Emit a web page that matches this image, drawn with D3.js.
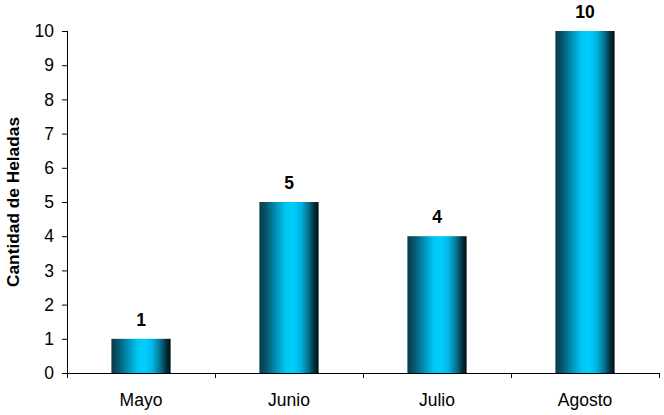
<!DOCTYPE html>
<html><head><meta charset="utf-8">
<script src="https://cdn.jsdelivr.net/npm/d3@7"></script>
<style>body{margin:0;background:#fff}text{font-family:"Liberation Sans",Arial,sans-serif}</style>
</head><body>
<svg id="c" width="664" height="415"></svg>
<script>
const categories = ["Mayo","Junio","Julio","Agosto"];
const values = [1,5,4,10];
const yTicks = [0,1,2,3,4,5,6,7,8,9,10];
const yTitle = "Cantidad de Heladas";

const svg = d3.select("#c");
const m = {l:67, r:5, t:31, b:42};
const W = 664, H = 415;
const FS = 17.5;
const x = d3.scaleBand().domain(categories).range([m.l, W - m.r]).paddingInner(0.6).paddingOuter(0.3);
const y = d3.scaleLinear().domain([0,10]).range([H - m.b, m.t]);

const defs = svg.append("defs");
const g = defs.append("linearGradient").attr("id","bg").attr("x1","0").attr("x2","1").attr("y1","0").attr("y2","0");
[[0,"#0a3a48"],[0.12,"#06586e"],[0.3,"#0098c0"],[0.45,"#00c8f5"],[0.58,"#00ccff"],[0.7,"#00b4e0"],[0.83,"#04708c"],[0.93,"#032e3a"],[1,"#010e12"]]
  .forEach(([o,c]) => g.append("stop").attr("offset",o).attr("stop-color",c));

// bars
svg.selectAll("rect.bar").data(values).join("rect")
  .attr("class","bar")
  .attr("x",(d,i)=>x(categories[i]))
  .attr("width",x.bandwidth())
  .attr("y",d=>y(d))
  .attr("height",d=>y(0)-y(d))
  .attr("fill","url(#bg)");

// value labels
svg.selectAll("text.val").data(values).join("text")
  .attr("class","val")
  .attr("x",(d,i)=>x(categories[i])+x.bandwidth()/2)
  .attr("y",d=>y(d)-13)
  .attr("text-anchor","middle")
  .attr("font-size",FS).attr("font-weight","bold").attr("fill","#000")
  .text(d=>d);

// y axis
const ya = svg.append("g").attr("transform",`translate(${m.l},0)`)
  .call(d3.axisLeft(y).tickValues(yTicks).tickSize(5).tickPadding(8).tickFormat(d3.format("d")));
ya.select(".domain").attr("d",`M0.5,${y(10)}V${y(0)}`).attr("stroke","#000");
ya.selectAll(".tick line").attr("stroke","#000");
ya.selectAll(".tick text").attr("font-size",FS).attr("fill","#000").style("font-family","'Liberation Sans',Arial,sans-serif");

// x axis
const step = x.step();
const xa = svg.append("g").attr("transform",`translate(0,${y(0)})`);
xa.append("line").attr("x1",m.l).attr("x2",W-m.r).attr("y1",0.5).attr("y2",0.5).attr("stroke","#000");
const bounds = categories.map((c,i)=>x(c)+x.bandwidth()/2 - step/2).concat([x(categories[categories.length-1])+x.bandwidth()/2+step/2]);
xa.selectAll("line.tk").data(bounds).join("line").attr("class","tk")
  .attr("x1",d=>Math.round(d)+0.5).attr("x2",d=>Math.round(d)+0.5).attr("y1",0).attr("y2",5).attr("stroke","#000");
xa.selectAll("text.cat").data(categories).join("text").attr("class","cat")
  .attr("x",d=>x(d)+x.bandwidth()/2).attr("y",33)
  .attr("text-anchor","middle").attr("font-size",FS).attr("fill","#000")
  .text(d=>d);

// y title
svg.append("text")
  .attr("transform",`translate(19,${(y(0)+y(10))/2}) rotate(-90)`)
  .attr("text-anchor","middle").attr("font-size",17.3).attr("font-weight","bold").attr("fill","#000")
  .text(yTitle);
</script>
</body></html>
